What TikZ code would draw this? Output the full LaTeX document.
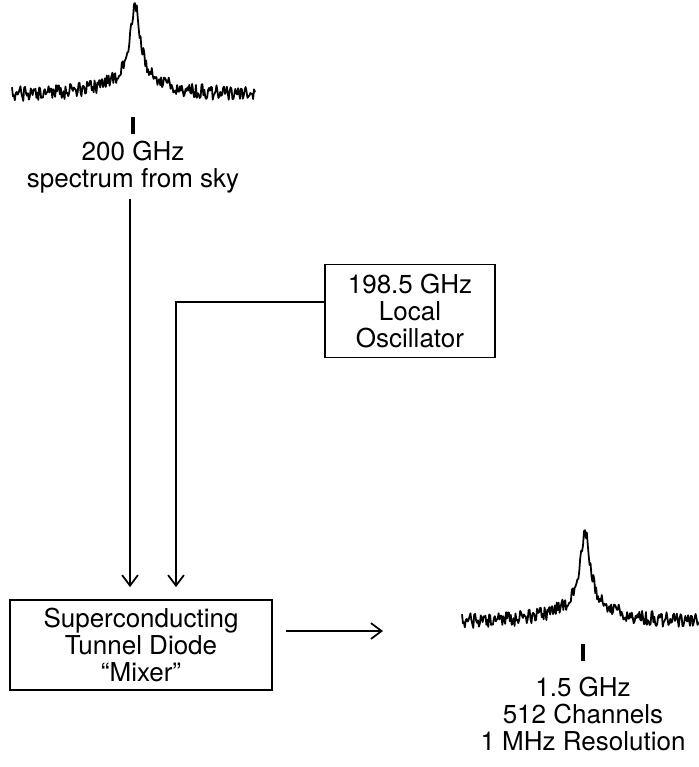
\documentclass[tikz,border=0pt]{standalone}
\usepackage{fontspec}
\setmainfont{TeX Gyre Heros}
\usetikzlibrary{arrows.meta}

\begin{document}
\begin{tikzpicture}[x=0.02cm, y=-0.02cm, >={Straight Barb[length=6pt,width=9pt]},
    every node/.style={font=\fontsize{14.8}{15.6}\selectfont},
    box/.style={draw, line width=1pt, align=center, inner sep=0pt},
    lbl/.style={align=center, inner sep=1pt},
    wire/.style={line width=1pt},
    trace/.style={line width=1pt, line join=round}]
    \useasboundingbox (0,0) rectangle (699,767);

    % the two spectra with their ticks
    \foreach \sx/\sy in {0/0, 450/527} {
        \pgfmathsetseed{4711}
        \draw[trace, shift={(\sx,\sy)}, domain=12:255, samples=260, variable=\t]
            plot ({\t}, {95 - 72/(1+((\t-135)/6)^2) - 18/(1+((\t-135)/30)^2) + 7.5*rand});
        \draw[line width=2.4pt] (133+\sx,117+\sy) -- (133+\sx,134+\sy);
    }

    \node[lbl] (sky) at (133,167) {200 GHz\\spectrum from sky};
    \node[box, minimum width=3.4cm, minimum height=1.86cm] (lo) at (410,311)
        {198.5 GHz\\Local\\Oscillator};
    \node[box, minimum width=5.24cm, minimum height=1.8cm] (mixer) at (141,645)
        {Superconducting\\Tunnel Diode\\“Mixer”};
    \node[lbl] (out) at (583,714) {1.5 GHz\\512 Channels\\1 MHz Resolution};
    \coordinate (ifin) at (383,631);

    \draw[wire, ->, shorten <=2pt, shorten >=0.24cm]
        ([xshift=-0.06cm]sky.south) -- ([xshift=-0.06cm]sky.south |- mixer.north);
    \draw[wire, ->, shorten >=0.24cm] ([yshift=0.18cm]lo.west) -| ([xshift=0.7cm]mixer.north);
    \draw[wire, ->, shorten <=0.26cm] (mixer.east |- ifin) -- (ifin);
\end{tikzpicture}
\end{document}
